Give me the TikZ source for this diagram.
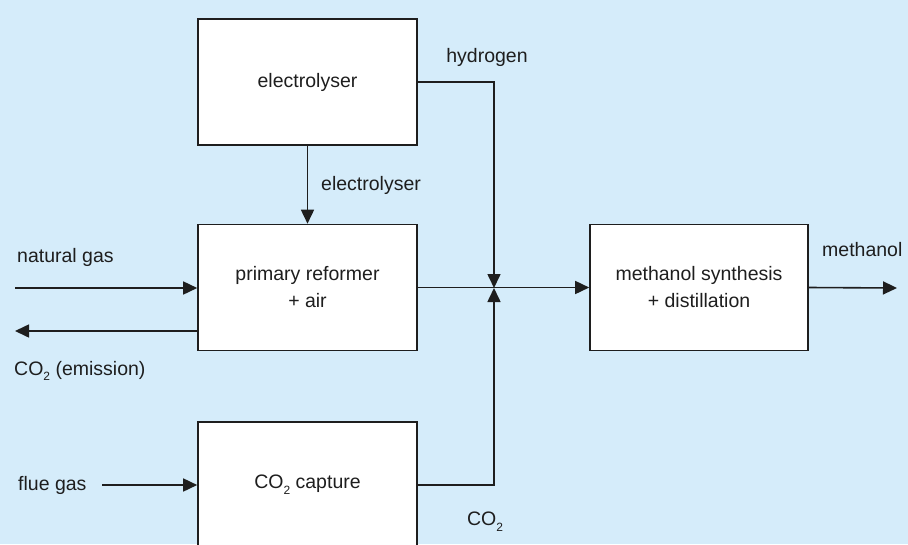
\documentclass[tikz,border=0pt]{standalone}
\usepackage{fontspec}
\setmainfont{Liberation Sans}
\usetikzlibrary{arrows.meta}
\definecolor{bgblue}{RGB}{213,236,250}
\definecolor{ink}{RGB}{30,30,30}
\newcommand{\cotwo}{CO\raisebox{-0.55ex}{\fontsize{12}{12}\selectfont 2}}
\begin{document}
\begin{tikzpicture}[x=1pt,y=-1pt,
  box/.style={draw=ink,line width=1.6pt,fill=white,minimum width=219pt,minimum height=126pt,inner sep=0pt,align=center,font=\fontsize{19.5}{27}\selectfont,text=ink},
  lbl/.style={font=\fontsize{19.5}{22}\selectfont,inner sep=0pt,text=ink},
  conn/.style={draw=ink,line width=1.6pt},
  arr/.style={conn,-{Triangle[length=14pt,width=13pt]}}]
\fill[bgblue] (0,0) rectangle (908,544);
\useasboundingbox (0,0) rectangle (908,544);
\clip (0,0) rectangle (908,544);
\node[box] (el) at (307.5,82) {electrolyser};
\node[box] (pr) at (307.5,287.5) {primary reformer\\+ air};
\node[box] (cc) at (307.5,485) {\cotwo{} capture};
\node[box,minimum width=218pt] (ms) at (699,287.5) {methanol synthesis\\+ distillation};
\coordinate (j) at (494,288);
\coordinate (ngin) at (15,288);
\coordinate (co2out) at (15,331);
\coordinate (fgin) at (102,485);
\coordinate (methout) at (897,288);
\draw[arr] (ngin) -- (ngin -| pr.west);
\draw[arr] (pr.west |- co2out) -- (co2out);
\draw[arr] (fgin) -- (cc.west);
\draw[arr] (el.south) -- (pr.north);
\draw[arr] (el.east) -| (j);
\draw[arr] (cc.east) -| (j);
\draw[arr] (pr.east) -- (ms.west);
\draw[arr] (ms.east) -- (methout);
\node[lbl,anchor=west] (lng) at (17,257) {natural gas};
\node[lbl,anchor=west] (lem) at (14,371) {\cotwo{} (emission)};
\node[lbl,anchor=west] (lfg) at (18,485) {flue gas};
\node[lbl] (lh) at (487,57) {hydrogen};
\node[lbl,anchor=west] (le) at (321,185) {electrolyser};
\node[lbl,anchor=west] (lm) at (822,250) {methanol};
\node[lbl] (lc) at (485,522) {\cotwo};
\end{tikzpicture}
\end{document}
